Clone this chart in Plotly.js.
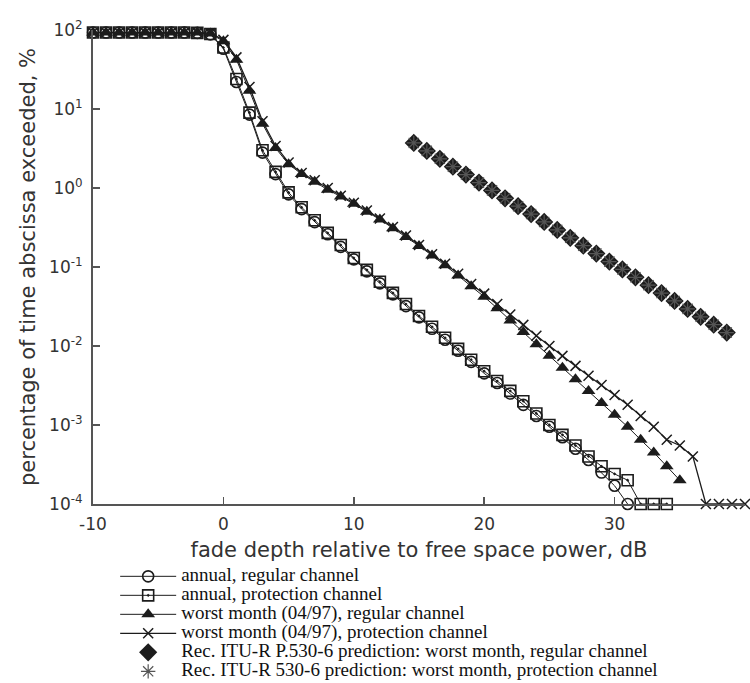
<!DOCTYPE html>
<html>
<head>
<meta charset="utf-8">
<script src="https://cdn.plot.ly/plotly-3.0.1.min.js"></script>
<style>html,body{margin:0;padding:0;background:#fff}#chart{width:750px;height:683px}</style>
</head>
<body>
<div id="chart"></div>
<script>
// fade depth (dB) and percentage of time exceeded (%)
const annualRegularX = [-10,-9,-8,-7,-6,-5,-4,-3,-2,-1,0,1,2,3,4,5,6,7,8,9,10,11,12,13,14,15,16,17,18,19,20,21,22,23,24,25,26,27,28,29,30,31];
const annualRegularY = [93,93,93,93,93,93,93,93,92,88,58,22,8.5,2.8,1.5,0.83,0.54,0.37,0.26,0.18,0.125,0.088,0.062,0.045,0.032,0.023,0.0165,0.012,0.0087,0.0063,0.0045,0.0034,0.0025,0.0018,0.0013,0.00095,0.0007,0.0005,0.00036,0.00025,0.00017,0.0001];

const annualProtectionX = [-10,-9,-8,-7,-6,-5,-4,-3,-2,-1,0,1,2,3,4,5,6,7,8,9,10,11,12,13,14,15,16,17,18,19,20,21,22,23,24,25,26,27,28,29,30,31,32,33,34];
const annualProtectionY = [93,93,93,93,93,93,93,93,92,89,60,24,9,3.0,1.6,0.88,0.57,0.39,0.27,0.19,0.13,0.092,0.065,0.047,0.034,0.024,0.0175,0.0127,0.0092,0.0067,0.0048,0.0036,0.0027,0.002,0.0014,0.001,0.00075,0.00055,0.0004,0.0003,0.00024,0.0002,0.0001,0.0001,0.0001];

const worstRegularX = [-10,-9,-8,-7,-6,-5,-4,-3,-2,-1,0,1,2,3,4,5,6,7,8,9,10,11,12,13,14,15,16,17,18,19,20,21,22,23,24,25,26,27,28,29,30,31,32,33,34,35];
const worstRegularY = [93,93,93,93,93,93,93,93,93,90,72,42,17,6.5,3.2,2.0,1.5,1.2,0.95,0.78,0.63,0.5,0.4,0.31,0.24,0.185,0.14,0.105,0.078,0.057,0.042,0.03,0.021,0.015,0.0105,0.0075,0.0053,0.0038,0.0027,0.0019,0.00135,0.00095,0.00065,0.00045,0.0003,0.0002];

const worstProtectionX = [-10,-9,-8,-7,-6,-5,-4,-3,-2,-1,0,1,2,3,4,5,6,7,8,9,10,11,12,13,14,15,16,17,18,19,20,21,22,23,24,25,26,27,28,29,30,31,32,33,34,35,36,37,38,39,40];
const worstProtectionY = [93,93,93,93,93,93,93,93,93,91,75,45,19,7,3.4,2.1,1.55,1.25,1.0,0.8,0.65,0.52,0.41,0.32,0.25,0.19,0.145,0.11,0.082,0.061,0.046,0.034,0.025,0.0185,0.0135,0.01,0.0075,0.0056,0.0042,0.0032,0.0024,0.0018,0.0013,0.00095,0.00065,0.00055,0.0004,0.0001,0.0001,0.0001,0.0001];

const predictionX = [14.6,15.6,16.6,17.6,18.6,19.6,20.6,21.6,22.6,23.6,24.6,25.6,26.6,27.6,28.6,29.6,30.6,31.6,32.6,33.6,34.6,35.6,36.6,37.6,38.6];
const predictionRegularY = [3.72,2.95,2.34,1.86,1.48,1.17,0.933,0.741,0.589,0.468,0.372,0.295,0.234,0.186,0.148,0.117,0.0933,0.0741,0.0589,0.0468,0.0372,0.0295,0.0234,0.0186,0.0148];
const predictionProtectionY = [3.72,2.95,2.34,1.86,1.48,1.17,0.933,0.741,0.589,0.468,0.372,0.295,0.234,0.186,0.148,0.117,0.0933,0.0741,0.0589,0.0468,0.0372,0.0295,0.0234,0.0186,0.0148];

const seriesNames = [
  'annual, regular channel',
  'annual, protection channel',
  'worst month (04/97), regular channel',
  'worst month (04/97), protection channel',
  'Rec. ITU-R P.530-6 prediction: worst month, regular channel',
  'Rec. ITU-R 530-6 prediction: worst month, protection channel'
];

const xTickVals = [-10, 0, 10, 20, 30, 40];
const xTickText = ['-10', '0', '10', '20', '30', '40'];
const yTickVals = [0.0001, 0.001, 0.01, 0.1, 1, 10, 100];
const yTickText = ['10<sup>-4</sup>','10<sup>-3</sup>','10<sup>-2</sup>','10<sup>-1</sup>','10<sup>0</sup>','10<sup>1</sup>','10<sup>2</sup>'];

const ink = '#1c1c1c';
function legendName(s) { return '<span style="font-size:19px">' + s + '</span>'; }

const traces = [
  {x: annualRegularX, y: annualRegularY, name: legendName(seriesNames[0]), mode: 'lines+markers',
   line: {color: ink, width: 1}, marker: {symbol: 'circle-open', size: 11, color: ink, line: {width: 1.6, color: ink}}, cliponaxis: false},
  {x: annualProtectionX, y: annualProtectionY, name: legendName(seriesNames[1]), mode: 'lines+markers',
   line: {color: ink, width: 1}, marker: {symbol: 'square-open-dot', size: 11, color: ink, line: {width: 1.6, color: ink}}, cliponaxis: false},
  {x: worstRegularX, y: worstRegularY, name: legendName(seriesNames[2]), mode: 'lines+markers',
   line: {color: ink, width: 1}, marker: {symbol: 'triangle-up', size: 12, color: ink}, cliponaxis: false},
  {x: worstProtectionX, y: worstProtectionY, name: legendName(seriesNames[3]), mode: 'lines+markers',
   line: {color: ink, width: 1.3}, marker: {symbol: 'x-thin-open', size: 10, color: ink, line: {width: 1.5, color: ink}}, cliponaxis: false},
  {x: predictionX, y: predictionRegularY, name: legendName(seriesNames[4]), mode: 'markers',
   marker: {symbol: 'diamond', size: 14, color: ink}, cliponaxis: false},
  {x: predictionX, y: predictionProtectionY, name: legendName(seriesNames[5]), mode: 'markers',
   marker: {symbol: 'asterisk-open', size: 12, color: '#555', line: {width: 1.2, color: '#555'}}, cliponaxis: false}
];

const axisFont = {family: 'DejaVu Sans, Liberation Sans, Arial, sans-serif', size: 17, color: '#333'};
const titleFont = {family: 'DejaVu Sans, Liberation Sans, Arial, sans-serif', size: 21, color: '#333'};

const layout = {
  width: 750, height: 683,
  margin: {l: 93, r: 5, t: 30, b: 179, autoexpand: false},
  paper_bgcolor: '#ffffff', plot_bgcolor: '#ffffff',
  font: {family: 'DejaVu Sans, Liberation Sans, Arial, sans-serif', color: '#222'},
  showlegend: true,
  legend: {
    x: 0.034, y: -0.122, xanchor: 'left', yanchor: 'top',
    font: {family: 'Liberation Serif, Times New Roman, serif', size: 11.5, color: '#111'},
    itemwidth: 56, bgcolor: 'rgba(0,0,0,0)', borderwidth: 0, traceorder: 'normal'
  },
  xaxis: {
    range: [-10, 40], tickvals: xTickVals, ticktext: xTickText, ticks: 'inside', ticklen: 7, tickwidth: 1.5, tickcolor: '#555',
    showline: true, linecolor: '#555', linewidth: 2, showgrid: false, zeroline: false, mirror: false,
    tickfont: axisFont, automargin: false, ticklabelstandoff: 4,
    title: {text: 'fade depth relative to free space power, dB', font: titleFont, standoff: 9}
  },
  yaxis: {
    type: 'log', range: [-4, 2], tickvals: yTickVals, ticktext: yTickText,
    ticks: 'inside', ticklen: 7, tickwidth: 1.5, tickcolor: '#555', ticklabelstandoff: 5,
    showline: true, linecolor: '#555', linewidth: 2, showgrid: false, zeroline: false, mirror: false,
    tickfont: axisFont, automargin: false,
    title: {text: 'percentage of time abscissa exceeded, %', font: titleFont, standoff: 8}
  }
};

Plotly.newPlot('chart', traces, layout, {displayModeBar: false, staticPlot: true});
</script>
</body>
</html>
